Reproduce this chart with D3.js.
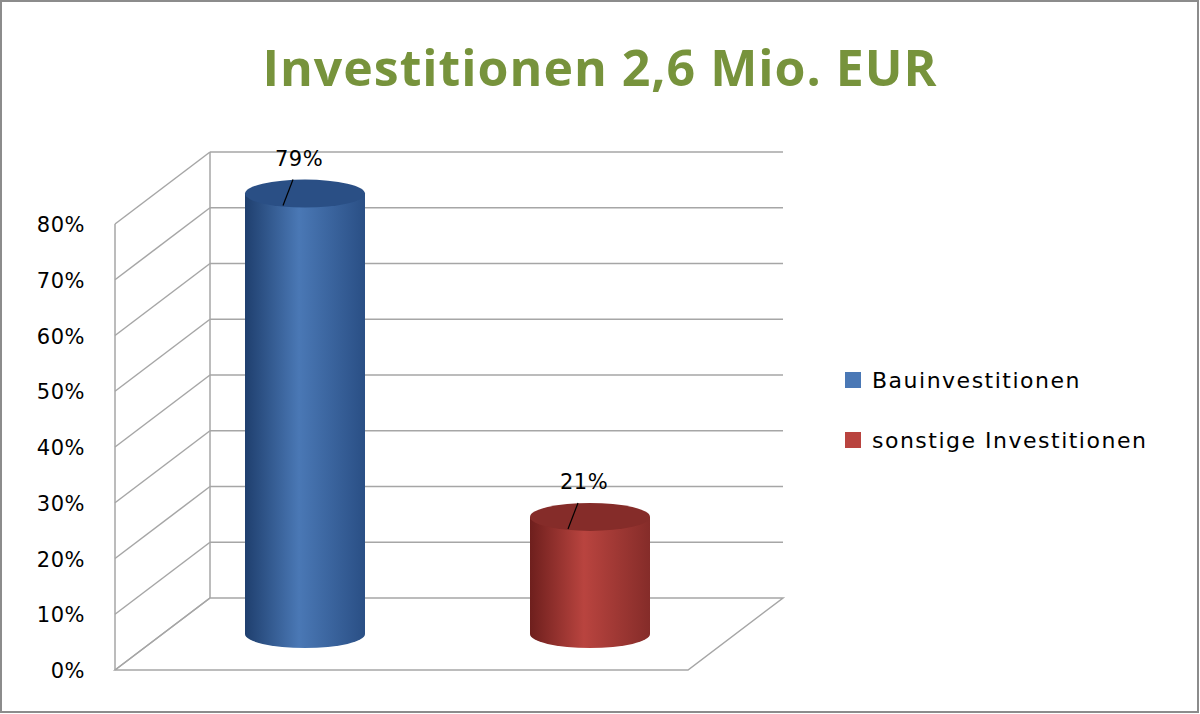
<!DOCTYPE html>
<html><head><meta charset="utf-8">
<script src="https://cdn.jsdelivr.net/npm/d3@7"></script>
<style>body{margin:0;background:#fff}svg{display:block}</style>
</head><body>
<svg id="c" width="1200" height="714"></svg>
<script>
const categories = ["Bauinvestitionen", "sonstige Investitionen"];
const values = [79, 21];
const labels = ["79%", "21%"];
const ticks = [0,10,20,30,40,50,60,70,80];
const colors = [["#1f3f6e","#4a78b5","#2a4f85"],["#6e1f1d","#b9443f","#852c29"]];

const svg = d3.select("#c");
svg.append("rect").attr("x",1).attr("y",1).attr("width",1197).attr("height",711).attr("fill","#fff").attr("stroke","#8c8c8c").attr("stroke-width",2);
svg.append("text").attr("x",600).attr("y",86).attr("text-anchor","middle").attr("font-family","Open Sans, Liberation Sans, sans-serif").attr("font-weight","bold").attr("font-size",50).attr("letter-spacing",1).attr("fill","#77933c").text("Investitionen 2,6 Mio. EUR");

const dx = 95, dy = -72;
const yFront = d3.scaleLinear().domain([0,80]).range([670,224]);
const fx0 = 115, fx1 = 688;
const g = svg.append("g");
const stroke = "#a6a6a6";
g.append("path").attr("d",`M${fx0},670 L${fx0+dx},${670+dy} L${fx1+dx},${670+dy} L${fx1},670 Z`).attr("fill","none").attr("stroke",stroke).attr("stroke-width",1.5);
ticks.forEach(t=>{
  const y = yFront(t);
  if(t>0) g.append("line").attr("x1",fx0+dx).attr("x2",fx1+dx).attr("y1",y+dy).attr("y2",y+dy).attr("stroke",stroke).attr("stroke-width",1.5);
  g.append("line").attr("x1",fx0).attr("x2",fx0+dx).attr("y1",y).attr("y2",y+dy).attr("stroke",stroke).attr("stroke-width",1.5);
});
g.append("line").attr("x1",fx0).attr("x2",fx0).attr("y1",670).attr("y2",yFront(80)).attr("stroke",stroke).attr("stroke-width",1.5);
g.append("line").attr("x1",fx0+dx).attr("x2",fx0+dx).attr("y1",670+dy).attr("y2",yFront(80)+dy).attr("stroke",stroke).attr("stroke-width",1.5);
ticks.forEach(t=>{
  svg.append("text").attr("x",85).attr("y",yFront(t)+8).attr("text-anchor","end").attr("font-family","DejaVu Sans, sans-serif").attr("font-size",21).attr("letter-spacing",0.5).attr("fill","#000").text(t+"%");
});
const x = d3.scalePoint().domain(categories).range([305,590]);
const ymid = d3.scaleLinear().domain([0,80]).range([634,188]);
const defs = svg.append("defs");
categories.forEach((c,i)=>{
  const gr = defs.append("linearGradient").attr("id","g"+i);
  gr.append("stop").attr("offset","0%").attr("stop-color",colors[i][0]);
  gr.append("stop").attr("offset","45%").attr("stop-color",colors[i][1]);
  gr.append("stop").attr("offset","100%").attr("stop-color",colors[i][2]);
  const cx = x(c), rx = 60, ry = 14;
  const yt = ymid(values[i]), yb = ymid(0);
  svg.append("path").attr("d",`M${cx-rx},${yt} L${cx-rx},${yb} A${rx},${ry} 0 0 0 ${cx+rx},${yb} L${cx+rx},${yt} Z`).attr("fill",`url(#g${i})`);
  svg.append("ellipse").attr("cx",cx).attr("cy",yt).attr("rx",rx).attr("ry",ry).attr("fill",colors[i][2]);
  svg.append("line").attr("x1",cx-22).attr("y1",yt+12).attr("x2",cx-12).attr("y2",yt-14).attr("stroke","#000").attr("stroke-width",1.2);
  svg.append("text").attr("x",cx-6).attr("y",yt-28).attr("text-anchor","middle").attr("font-family","DejaVu Sans, sans-serif").attr("font-size",21).attr("letter-spacing",0.5).text(labels[i]);
});
categories.forEach((c,i)=>{
  const y = 380 + i*60;
  svg.append("rect").attr("x",845).attr("y",y-8).attr("width",16).attr("height",16).attr("fill",colors[i][1]);
  svg.append("text").attr("x",872).attr("y",y+8).attr("font-family","DejaVu Sans, sans-serif").attr("font-size",22).attr("letter-spacing",1.5).text(c);
});
</script>
</body></html>
